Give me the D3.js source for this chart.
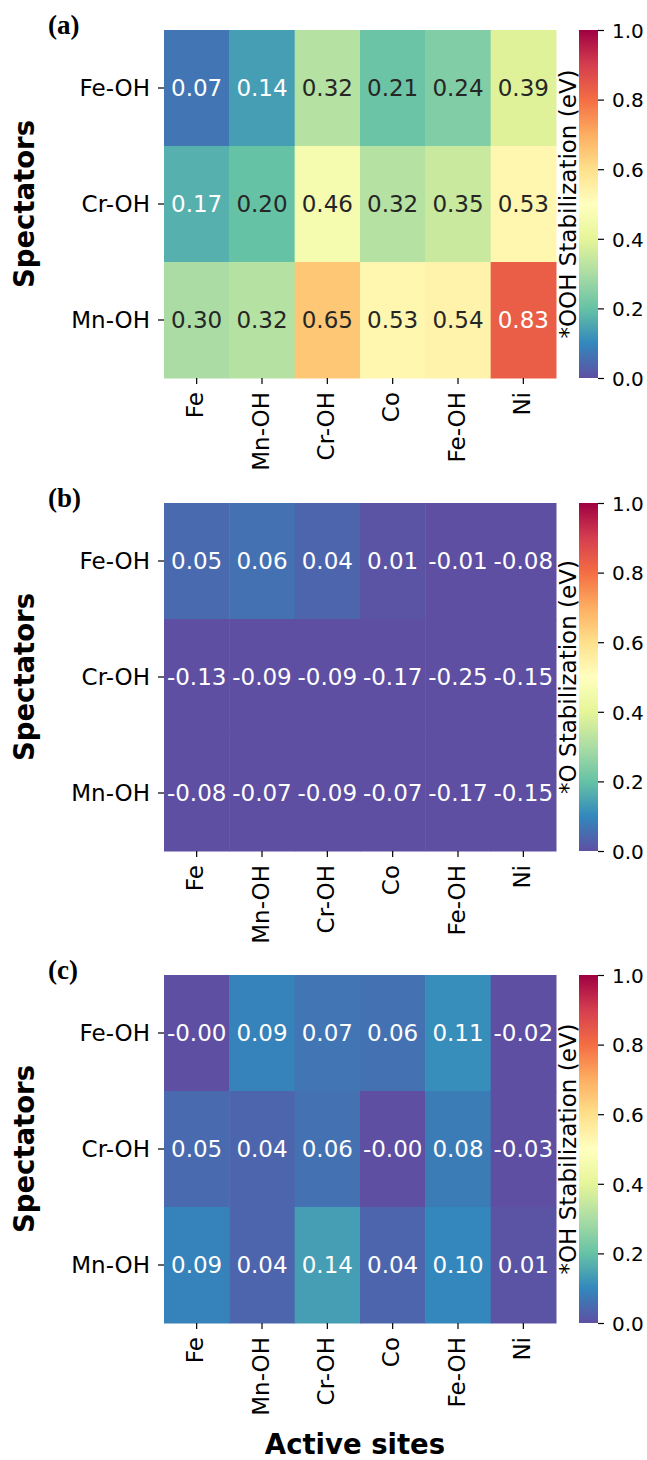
<!DOCTYPE html>
<html>
<head>
<meta charset="utf-8">
<script src="https://cdn.jsdelivr.net/npm/d3@7"></script>
<style>
  html, body { margin: 0; padding: 0; background: #fff; }
  svg { display: block; }
</style>
</head>
<body>
<svg id="chart" width="647" height="1460"></svg>
<script>
// Active-site columns and spectator rows shared by all three maps
const activeSites = ["Fe", "Mn-OH", "Cr-OH", "Co", "Fe-OH", "Ni"];
const spectators = ["Fe-OH", "Cr-OH", "Mn-OH"];

// *OOH stabilization (eV)
const oohValues = [
  [0.07, 0.14, 0.32, 0.21, 0.24, 0.39],
  [0.17, 0.20, 0.46, 0.32, 0.35, 0.53],
  [0.30, 0.32, 0.65, 0.53, 0.54, 0.83]
];
// *O stabilization (eV)
const oValues = [
  [0.05, 0.06, 0.04, 0.01, -0.01, -0.08],
  [-0.13, -0.09, -0.09, -0.17, -0.25, -0.15],
  [-0.08, -0.07, -0.09, -0.07, -0.17, -0.15]
];
// *OH stabilization (eV)
const ohValues = [
  [-0.001, 0.09, 0.07, 0.06, 0.11, -0.02],
  [0.05, 0.04, 0.06, -0.001, 0.08, -0.03],
  [0.09, 0.04, 0.14, 0.04, 0.10, 0.01]
];

const panelTags = ["(a)", "(b)", "(c)"];
const colorbarTitles = ["*OOH Stabilization (eV)", "*O Stabilization (eV)", "*OH Stabilization (eV)"];
const colorbarTicks = [0.0, 0.2, 0.4, 0.6, 0.8, 1.0];
const yTitle = "Spectators";
const xTitle = "Active sites";

// Spectral colour ramp, reversed (low = purple, high = dark red)
const spectralR = ["#5e4fa2", "#3288bd", "#66c2a5", "#abdda4", "#e6f598", "#ffffbf",
                   "#fee08b", "#fdae61", "#f46d43", "#d53e4f", "#9e0142"];
const ramp = d3.scaleLinear()
  .domain(d3.range(spectralR.length).map(i => i / (spectralR.length - 1)))
  .range(spectralR)
  .interpolate(d3.interpolateRgb)
  .clamp(true);
// 256-entry lookup like a sampled colormap
const colorOf = v => {
  const t = Math.max(0, Math.min(1, v));
  const idx = Math.min(255, Math.floor(t * 256));
  return ramp(idx / 255);
};
function luminance(col) {
  const c = d3.rgb(col);
  const f = x => { x /= 255; return x <= 0.03928 ? x / 12.92 : Math.pow((x + 0.055) / 1.055, 2.4); };
  return 0.2126 * f(c.r) + 0.7152 * f(c.g) + 0.0722 * f(c.b);
}

const SANS = "DejaVu Sans, sans-serif";
const SERIF = "Liberation Serif, Times New Roman, serif";

const svg = d3.select("#chart");
const defs = svg.append("defs");
const grad = defs.append("linearGradient").attr("id", "cbarGrad")
  .attr("x1", 0).attr("y1", 1).attr("x2", 0).attr("y2", 0);
spectralR.forEach((c, i) => grad.append("stop")
  .attr("offset", i / (spectralR.length - 1)).attr("stop-color", c));

const mapLeft = 164, mapRight = 556, mapH = 348;
const panelTops = [30, 503, 975];
const cbarX = 579, cbarW = 19;
const tickFont = 23;
const cbarTickFont = 20;

const panels = [oohValues, oValues, ohValues];

panels.forEach((values, p) => {
  const top = panelTops[p];
  const g = svg.append("g");

  const x = d3.scaleBand().domain(activeSites).range([mapLeft, mapRight]);
  const y = d3.scaleBand().domain(spectators).range([top, top + mapH]);

  const cells = [];
  spectators.forEach((s, r) => activeSites.forEach((a, c) => cells.push({ s, a, v: values[r][c] })));

  g.selectAll("rect.cell").data(cells).join("rect")
    .attr("class", "cell")
    .attr("x", d => x(d.a))
    .attr("y", d => y(d.s))
    .attr("width", x.bandwidth() + 0.5)
    .attr("height", y.bandwidth() + 0.5)
    .attr("fill", d => colorOf(d.v));

  g.selectAll("text.ann").data(cells).join("text")
    .attr("class", "ann")
    .attr("x", d => x(d.a) + x.bandwidth() / 2)
    .attr("y", d => y(d.s) + y.bandwidth() / 2)
    .attr("dy", "0.36em")
    .attr("text-anchor", "middle")
    .style("font-family", SANS)
    .style("font-size", tickFont + "px")
    .attr("fill", d => luminance(colorOf(d.v)) > 0.408 ? "#262626" : "#ffffff")
    .text(d => d.v.toFixed(2));

  // left axis (spectators)
  const yAxis = g.append("g").attr("transform", `translate(${mapLeft},0)`)
    .call(d3.axisLeft(y).tickSize(6).tickPadding(8));
  yAxis.select(".domain").remove();
  yAxis.selectAll(".tick line").attr("stroke", "#000").attr("stroke-width", 1.2);
  yAxis.selectAll(".tick text")
    .style("font-family", SANS).style("font-size", tickFont + "px")
    .attr("fill", "#000").attr("dy", "0.36em");

  // bottom axis (active sites), labels vertical
  const xAxis = g.append("g").attr("transform", `translate(0,${top + mapH})`)
    .call(d3.axisBottom(x).tickSize(6));
  xAxis.select(".domain").remove();
  xAxis.selectAll(".tick line").attr("stroke", "#000").attr("stroke-width", 1.2);
  xAxis.selectAll(".tick text")
    .style("font-family", SANS).style("font-size", tickFont + "px").attr("fill", "#000")
    .attr("transform", "rotate(-90)")
    .attr("x", -14).attr("y", 0).attr("dy", "0.29em")
    .attr("text-anchor", "end");

  // colour bar
  const cy = d3.scaleLinear().domain([0, 1]).range([top + mapH, top]);
  g.append("rect").attr("x", cbarX).attr("y", top).attr("width", cbarW).attr("height", mapH)
    .attr("fill", "url(#cbarGrad)");
  const cAxis = g.append("g").attr("transform", `translate(${cbarX + cbarW},0)`)
    .call(d3.axisRight(cy).tickValues(colorbarTicks).tickFormat(d3.format(".1f")).tickSize(6).tickPadding(8));
  cAxis.select(".domain").remove();
  cAxis.selectAll(".tick line").attr("stroke", "#000").attr("stroke-width", 1.2);
  cAxis.selectAll(".tick text")
    .style("font-family", SANS).style("font-size", cbarTickFont + "px")
    .attr("fill", "#000").attr("dy", "0.36em");

  g.append("text")
    .attr("transform", `translate(576,${top + mapH / 2}) rotate(-90)`)
    .attr("text-anchor", "middle")
    .style("font-family", SANS)
    .style("font-size", tickFont + "px")
    .attr("fill", "#000")
    .text(colorbarTitles[p]);

  // y title
  g.append("text")
    .attr("transform", `translate(34,${top + mapH / 2}) rotate(-90)`)
    .attr("text-anchor", "middle")
    .style("font-family", SANS)
    .style("font-size", "27.5px")
    .style("font-weight", "bold")
    .attr("fill", "#000")
    .text(yTitle);

  // panel tag
  g.append("text")
    .attr("x", 48).attr("y", top + 4)
    .style("font-family", SERIF)
    .style("font-weight", "bold")
    .style("font-size", "27px")
    .attr("fill", "#000")
    .text(panelTags[p]);
});

svg.append("text")
  .attr("x", 355).attr("y", 1454)
  .attr("text-anchor", "middle")
  .style("font-family", SANS)
  .style("font-size", "27.5px")
  .style("font-weight", "bold")
  .attr("fill", "#000")
  .text(xTitle);
</script>
</body>
</html>
